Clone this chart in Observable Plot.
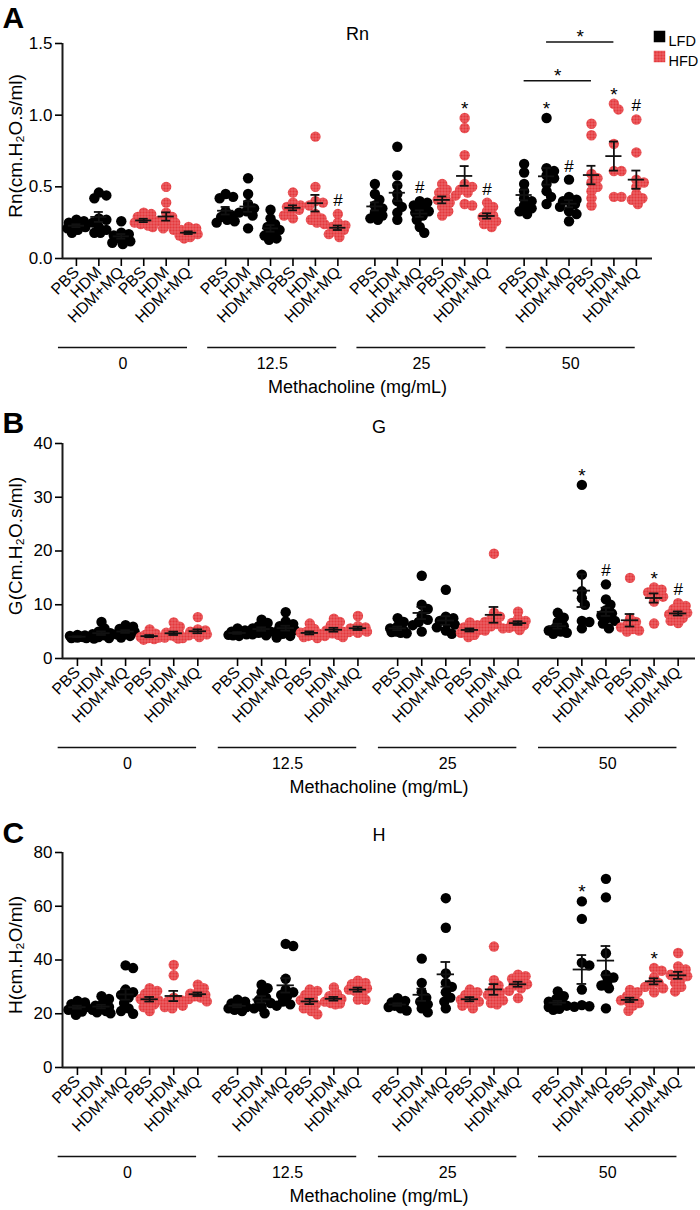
<!DOCTYPE html>
<html><head><meta charset="utf-8">
<script src="https://cdn.jsdelivr.net/npm/d3@7"></script>
<script src="https://cdn.jsdelivr.net/npm/@observablehq/plot@0.6"></script>
<style>
body{margin:0;background:#fff;}
#chart{position:relative;width:700px;height:1210px;font-family:"Liberation Sans",Arial,Helvetica,sans-serif;}
#chart svg{display:block;overflow:visible;}
</style></head><body><div id="chart"></div>
<script>
const groupLabels = ["PBS","HDM","HDM+MQ","PBS","HDM","HDM+MQ"];
const dietOfGroup = ["LFD","LFD","LFD","HFD","HFD","HFD"];
const doseLabels = ["0","12.5","25","50"];
const legendLabels = ["LFD","HFD"];
const xTitle = "Methacholine (mg/mL)";

// Panel A: Rn — 24 groups (dose-major: LFD PBS, HDM, HDM+MQ, HFD PBS, HDM, HDM+MQ)
const rnValues = [
  [0.27,0.26,0.25,0.24,0.23,0.22,0.21,0.20,0.18],
  [0.46,0.44,0.42,0.28,0.27,0.25,0.22,0.20,0.18,0.18],
  [0.26,0.18,0.17,0.16,0.15,0.14,0.12,0.10,0.11],
  [0.32,0.31,0.29,0.27,0.26,0.25,0.24,0.23,0.22],
  [0.50,0.39,0.32,0.29,0.27,0.26,0.25,0.24,0.21,0.20],
  [0.22,0.21,0.20,0.19,0.18,0.17,0.16,0.15,0.14],
  [0.45,0.43,0.42,0.33,0.30,0.29,0.27,0.26,0.25],
  [0.56,0.45,0.38,0.35,0.33,0.32,0.30,0.21],
  [0.34,0.28,0.24,0.22,0.20,0.18,0.16,0.14,0.13],
  [0.46,0.39,0.37,0.36,0.35,0.34,0.33,0.30,0.28],
  [0.85,0.50,0.40,0.39,0.37,0.31,0.28,0.27,0.25,0.24],
  [0.31,0.25,0.23,0.22,0.21,0.20,0.19,0.17,0.15],
  [0.52,0.45,0.41,0.37,0.35,0.32,0.30,0.28,0.27],
  [0.78,0.58,0.51,0.45,0.40,0.36,0.32,0.27],
  [0.40,0.39,0.37,0.35,0.33,0.32,0.30,0.27,0.22,0.18],
  [0.52,0.48,0.46,0.43,0.41,0.39,0.36,0.33,0.30],
  [0.98,0.91,0.72,0.52,0.50,0.48,0.46,0.44,0.38,0.37],
  [0.39,0.36,0.33,0.30,0.29,0.28,0.26,0.24,0.22],
  [0.66,0.60,0.52,0.47,0.42,0.40,0.37,0.35,0.33,0.31],
  [0.98,0.63,0.61,0.58,0.56,0.52,0.47,0.43,0.38],
  [0.55,0.43,0.41,0.40,0.39,0.38,0.36,0.33,0.31,0.26],
  [0.94,0.86,0.59,0.56,0.53,0.50,0.47,0.42,0.37],
  [1.08,1.04,0.80,0.61,0.61,0.43,0.43],
  [0.97,0.74,0.55,0.53,0.50,0.45,0.42,0.41,0.38]
];
const rnTicks = [0, 0.5, 1.0, 1.5];
const rnAnnotSlot = [11,14,16,17,19,20,22,23];
const rnAnnotSym  = ["#","#","*","#","*","#","*","#"];
const rnBracketFrom = [19,18];
const rnBracketTo   = [22,21];
const rnBracketLevel = [1.51,1.24];

// Panel B: G
const gValues = [
  [4.4,4.3,4.2,4.1,4.0,4.0,3.9,3.8,3.8],
  [6.8,5.6,5.0,4.7,4.5,4.3,4.0,3.8,3.7],
  [6.2,5.9,5.5,5.2,5.0,4.8,4.5,4.2,3.9],
  [5.4,4.6,4.4,4.2,4.0,3.9,3.8,3.6,3.5],
  [6.7,5.9,5.2,4.8,4.5,4.3,4.1,3.9,3.8,3.7],
  [7.7,5.4,5.2,5.0,4.9,4.6,4.5,4.3,4.0],
  [5.6,5.2,5.0,4.8,4.7,4.5,4.4,4.3,4.2],
  [7.2,6.6,6.0,5.6,5.3,5.0,4.8,4.5,4.3],
  [8.6,6.9,6.4,6.0,5.6,5.3,5.0,4.6,4.2,3.9],
  [6.5,5.5,5.0,4.8,4.6,4.4,4.2,4.0,3.8],
  [7.4,6.8,6.2,5.6,5.2,5.0,4.7,4.4,4.2,4.0],
  [7.9,6.0,5.8,5.6,5.4,5.2,5.0,4.9,4.8],
  [7.5,6.8,6.0,5.6,5.2,5.0,4.9,4.8,4.7],
  [15.4,10.0,9.2,8.0,7.2,6.8,6.2,5.0],
  [12.8,7.8,7.5,7.0,6.6,6.3,5.8,5.2,4.6],
  [6.7,6.2,5.8,5.5,5.3,5.1,4.8,4.4,4.0],
  [19.5,8.5,7.8,7.3,6.8,6.4,6.0,5.6,5.2],
  [8.7,7.4,7.0,6.6,6.4,6.2,6.0,5.7,5.3],
  [8.5,7.6,6.8,6.0,5.6,5.2,5.0,4.8,4.6],
  [32.3,15.6,12.5,11.2,10.0,7.0,6.8,5.6],
  [13.8,11.0,10.0,9.0,8.4,8.0,7.5,7.0,6.5,5.6],
  [15.0,7.4,6.8,6.2,5.8,5.5,5.2,5.0],
  [13.2,12.8,12.3,11.9,11.5,10.6,6.5],
  [10.3,9.8,9.2,8.8,8.5,8.2,7.9,7.5,7.0,6.6]
];
const gTicks = [0,10,20,30,40];
const gAnnotSlot = [19,20,22,23];
const gAnnotSym  = ["*","#","*","#"];

// Panel C: H
const hValues = [
  [24.8,24.2,23.6,23.0,22.5,22.0,21.5,20.8,19.6],
  [26.5,25.5,24.0,23.0,22.5,22.0,21.5,21.0,20.5,20.2],
  [38.0,37.0,29.0,28.0,27.0,26.0,24.0,22.0,21.0,20.0],
  [29.5,28.5,27.5,26.5,25.5,25.0,24.5,23.5,22.5,21.0],
  [38.2,34.3,26.0,25.0,24.5,24.0,23.0,22.5,22.0],
  [30.8,29.5,28.0,27.5,27.0,26.5,26.0,25.5,24.6],
  [25.2,24.5,23.8,23.0,22.5,22.0,21.5,21.0],
  [30.8,29.5,28.0,26.0,25.0,24.0,22.5,22.0,20.2],
  [46.0,45.2,33.0,29.0,28.0,27.0,26.5,24.5,23.5,23.0],
  [29.0,28.5,27.0,26.0,25.0,24.0,23.5,22.0,21.0,19.8],
  [29.8,27.5,26.5,25.5,25.0,24.5,24.0,23.8,23.5],
  [32.3,31.5,31.0,30.0,29.5,29.0,28.5,27.5,25.3,25.2],
  [25.8,24.8,24.2,23.8,23.5,23.0,22.5,22.0,21.2],
  [40.5,31.5,28.0,26.0,24.5,23.5,22.0,20.5],
  [63.0,52.0,35.0,31.5,30.0,28.0,26.0,24.5,22.0],
  [29.0,28.0,27.0,26.0,25.2,24.5,24.0,23.0,22.0],
  [45.0,32.5,30.5,29.0,28.0,27.0,26.0,25.0,24.0,23.5],
  [34.5,34.0,33.0,32.0,31.0,30.5,29.5,28.5,25.8],
  [28.3,26.5,25.5,24.5,24.0,23.5,23.0,22.5,21.8,21.5],
  [61.8,55.3,39.0,38.0,29.0,23.2,22.8,22.6],
  [70.2,63.3,42.5,34.5,33.5,32.0,30.5,29.5,22.0],
  [28.9,28.0,26.5,25.5,25.0,24.5,24.0,23.0,21.1],
  [37.0,36.0,33.5,31.5,31.0,30.0,29.5,28.0],
  [42.6,37.6,36.5,35.0,34.5,34.0,33.0,31.5,30.0,28.3]
];
const hTicks = [0,20,40,60,80];
const hAnnotSlot = [19,22];
const hAnnotSym  = ["*","*"];

// ---------- layout helpers ----------
const STRIDE = 6.65;
const pos = j => Math.floor(j / 6) * STRIDE + (j % 6);
const xDom = [-0.62, pos(23) + 0.72];
const RED = "#e4383c";

// compact scatter layout (GraphPad-like): spread close values sideways, clamp width
function swarm(vals, pxPerUnit, pxPerSlot, r) {
  const order = vals.map((v, i) => i).sort((a, b) => vals[b] - vals[a]);
  const placed = [];
  const off = new Array(vals.length).fill(0);
  const minD = r * 1.3, maxOff = 9;
  const cands = [0];
  for (let s = 1.5; s <= maxOff; s += 1.5) cands.push(s, -s);
  for (const i of order) {
    const y = vals[i] * pxPerUnit;
    let best = 0, bestScore = -1;
    for (const c of cands) {
      const d = placed.length ? d3.min(placed, p => Math.hypot(p.x - c, p.y - y)) : Infinity;
      if (d >= minD) { best = c; bestScore = Infinity; break; }
      if (d > bestScore) { bestScore = d; best = c; }
    }
    placed.push({x: best, y});
    off[i] = best / pxPerSlot;
  }
  return off;
}

function panel(cfg) {
  const {values, yMax, ticks, fmt, yLabel, title, letter, height, marginTop, marginRight,
         annotSlot, annotSym, letterDy, titleDy, patId, legend, brackets} = cfg;
  const marginLeft = 62, plotH = 215;
  const marginBottom = height - marginTop - plotH;
  const pxPerSlot = (700 - marginLeft - marginRight) / (xDom[1] - xDom[0]);
  const pxPerUnit = plotH / yMax;
  const r = 5.2;
  const rows = [], stats = [];
  values.forEach((vals, j) => {
    const offs = swarm(vals, pxPerUnit, pxPerSlot, r);
    vals.forEach((v, k) => rows.push({x: pos(j) + offs[k], y: v, diet: dietOfGroup[j % 6]}));
    const m = d3.mean(vals), sem = d3.deviation(vals) / Math.sqrt(vals.length);
    stats.push({x: pos(j), mean: m, lo: m - sem, hi: m + sem});
  });
  const ann = annotSlot.map((s, i) => ({x: pos(s), y: d3.max(values[s]), sym: annotSym[i]}));
  const doseRows = doseLabels.map((d, g) => {
    const x1 = pos(g * 6) - 0.8, x2 = pos(g * 6 + 5) - 0.05;
    return {label: d, x1, x2, xc: (x1 + x2) / 2, y: 0};
  });
  const hw = 0.36, cw = 0.2;
  const fill = `url(#${patId})`;
  const marks = [
    Plot.ruleY([0], {strokeWidth: 2, stroke: "#1a1a1a"}),
    Plot.ruleX([xDom[0]], {strokeWidth: 2, stroke: "#1a1a1a"}),
    Plot.axisY({ticks, tickFormat: fmt, tickSize: 7, tickPadding: 3, fontSize: 17, strokeWidth: 1.6, label: null}),
    Plot.axisX({ticks: d3.range(24).map(pos), tickFormat: (d, i) => groupLabels[i % 6], tickRotate: -45,
                tickSize: 8, tickPadding: 3, fontSize: 16, strokeWidth: 1.6, label: null}),
    Plot.dot(rows.filter(d => d.diet === "LFD"), {x: "x", y: "y", r, fill: "black"}),
    Plot.dot(rows.filter(d => d.diet === "HFD"), {x: "x", y: "y", r, fill}),
    Plot.ruleY(stats, {y: "mean", x1: d => d.x - hw, x2: d => d.x + hw, strokeWidth: 1.8, stroke: "#111"}),
    Plot.ruleX(stats, {x: "x", y1: "lo", y2: "hi", strokeWidth: 1.8, stroke: "#111"}),
    Plot.ruleY(stats, {y: "lo", x1: d => d.x - cw, x2: d => d.x + cw, strokeWidth: 1.8, stroke: "#111"}),
    Plot.ruleY(stats, {y: "hi", x1: d => d.x - cw, x2: d => d.x + cw, strokeWidth: 1.8, stroke: "#111"}),
    Plot.text(ann.filter(d => d.sym === "*"), {x: "x", y: "y", text: "sym", dy: -3, lineAnchor: "bottom", fontSize: 19}),
    Plot.text(ann.filter(d => d.sym === "#"), {x: "x", y: "y", text: "sym", dy: -8, lineAnchor: "bottom", fontSize: 17}),
    Plot.ruleY(doseRows, {y: "y", x1: "x1", x2: "x2", dy: 89, strokeWidth: 1.5, stroke: "#111"}),
    Plot.text(doseRows, {x: "xc", y: "y", text: "label", dy: 110, lineAnchor: "bottom", fontSize: 16}),
    Plot.text([xTitle], {frameAnchor: "bottom", dy: 134, lineAnchor: "bottom", fontSize: 18}),
    Plot.text([yLabel], {frameAnchor: "left", textAnchor: "middle", rotate: -90, dx: -47, dy: -5, fontSize: 19}),
    Plot.text([letter], {frameAnchor: "top-left", dx: -60, dy: letterDy, textAnchor: "start", lineAnchor: "bottom", fontSize: 30, fontWeight: "bold"}),
    Plot.text([title], {frameAnchor: "top", dy: titleDy, lineAnchor: "bottom", fontSize: 18})
  ];
  if (brackets) {
    const br = brackets.from.map((f, i) => ({x1: pos(f), x2: pos(brackets.to[i]), y: brackets.level[i], xc: (pos(f) + pos(brackets.to[i])) / 2}));
    marks.push(Plot.ruleY(br, {y: "y", x1: "x1", x2: "x2", strokeWidth: 1.5, stroke: "#111"}));
    marks.push(Plot.text(br, {x: "xc", y: "y", text: () => "*", lineAnchor: "bottom", dy: 1, fontSize: 19}));
  }
  if (legend) {
    marks.push(Plot.dot([legendLabels[0]], {frameAnchor: "top-right", dx: 7, dy: -7, symbol: "square", r: 6.5, fill: "black"}));
    marks.push(Plot.dot([legendLabels[1]], {frameAnchor: "top-right", dx: 7, dy: 13, symbol: "square", r: 6.5, fill}));
    marks.push(Plot.text([legendLabels[0]], {frameAnchor: "top-right", dx: 16, dy: -8, textAnchor: "start", fontSize: 14.5}));
    marks.push(Plot.text([legendLabels[1]], {frameAnchor: "top-right", dx: 16, dy: 12, textAnchor: "start", fontSize: 14.5}));
  }
  const svg = Plot.plot({
    width: 700, height, marginLeft, marginRight, marginTop, marginBottom,
    x: {type: "linear", domain: xDom, axis: null},
    y: {domain: [0, yMax], axis: null},
    style: {fontFamily: '"Liberation Sans", Arial, Helvetica, sans-serif', color: "black", background: "white", overflow: "visible"},
    marks
  });
  d3.select(svg).insert("defs", ":first-child").html(
    `<pattern id="${patId}" patternUnits="userSpaceOnUse" width="3" height="3">
       <rect width="3" height="3" fill="${RED}"/>
       <path d="M0 0.3H3M0.3 0V3" stroke="#ffffff" stroke-opacity="0.38" stroke-width="0.6"/>
     </pattern>`);
  return svg;
}

const root = document.getElementById("chart");
root.appendChild(panel({values: rnValues, yMax: 1.5, ticks: rnTicks, fmt: d3.format(".1f"),
  yLabel: "Rn(cm.H\u2082O.s/ml)", title: "Rn", letter: "A", height: 400, marginTop: 43, marginRight: 48,
  annotSlot: rnAnnotSlot, annotSym: rnAnnotSym, letterDy: -16, titleDy: -4, patId: "hfdA", legend: true,
  brackets: {from: rnBracketFrom, to: rnBracketTo, level: rnBracketLevel}}));
root.appendChild(panel({values: gValues, yMax: 40, ticks: gTicks, fmt: d3.format("d"),
  yLabel: "G(Cm.H\u2082O.s/ml)", title: "G", letter: "B", height: 400, marginTop: 43, marginRight: 5,
  annotSlot: gAnnotSlot, annotSym: gAnnotSym, letterDy: -11, titleDy: -11, patId: "hfdB"}));
root.appendChild(panel({values: hValues, yMax: 80, ticks: hTicks, fmt: d3.format("d"),
  yLabel: "H(cm.H\u2082O/ml)", title: "H", letter: "C", height: 410, marginTop: 52, marginRight: 5,
  annotSlot: hAnnotSlot, annotSym: hAnnotSym, letterDy: -10, titleDy: -12, patId: "hfdC"}));
</script></body></html>
